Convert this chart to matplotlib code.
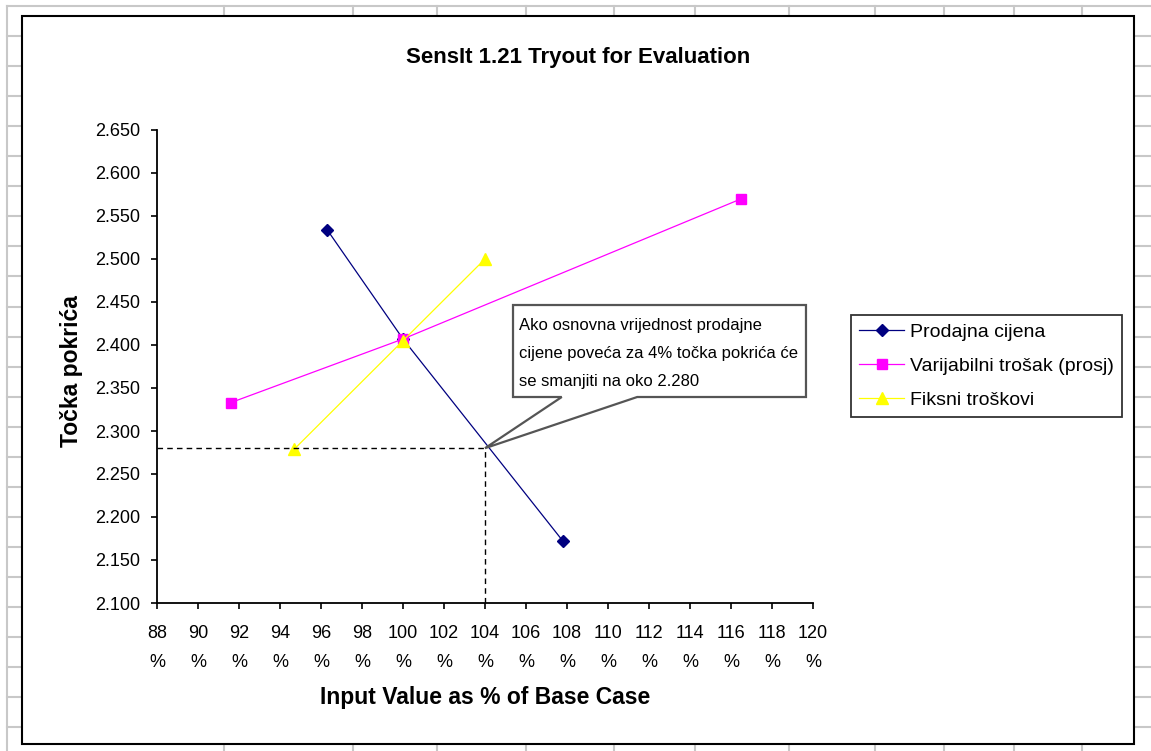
import numpy as np
import matplotlib
matplotlib.use("Agg")
from matplotlib import pyplot as plt
from matplotlib.lines import Line2D
from matplotlib.patches import Rectangle, Polygon

plt.rcParams['font.family'] = ['Liberation Sans', 'DejaVu Sans']

# data
prodajna_x = [96.3, 100.0, 107.8]
prodajna_y = [2.534, 2.407, 2.172]
varijabilni_x = [91.6, 100.0, 116.5]
varijabilni_y = [2.333, 2.407, 2.570]
fiksni_x = [94.7, 100.0, 104.0]
fiksni_y = [2.279, 2.405, 2.500]

x_ticks = list(range(88, 121, 2))
y_ticks = [2.100, 2.150, 2.200, 2.250, 2.300, 2.350, 2.400, 2.450,
           2.500, 2.550, 2.600, 2.650]

callout_x = 104
callout_y = 2.280
callout_text = ("Ako osnovna vrijednost prodajne\n"
                "cijene poveća za 4% točka pokrića će\n"
                "se smanjiti na oko 2.280")

W, H = 1151, 751
fig = plt.figure(figsize=(W / 100, H / 100), dpi=100)
fig.patch.set_facecolor('white')

def fx(px):
    return px / W

def fy(py):
    return 1 - py / H

# spreadsheet cell grid behind the chart
grid_c = '#c8c8c8'
for cx in [7, 224, 353, 437, 526, 614, 695, 789, 875, 944, 1014, 1082]:
    fig.add_artist(Line2D([fx(cx), fx(cx)], [fy(6), 0], color=grid_c, lw=1.5, zorder=0))
for k in range(25):
    ry = 6 + 30.05 * k
    if ry > H:
        break
    fig.add_artist(Line2D([fx(7), 1], [fy(ry), fy(ry)], color=grid_c, lw=1.5, zorder=0))

# chart area
fig.add_artist(Rectangle((fx(22), fy(744)), fx(1134) - fx(22), fy(16) - fy(744),
                         transform=fig.transFigure, facecolor='white',
                         edgecolor='black', lw=1.5, zorder=1))

ax = fig.add_axes([fx(157), fy(603), fx(813) - fx(157), fy(130) - fy(603)])
ax.set_facecolor('none')
ax.set_zorder(2)

ax.plot(prodajna_x, prodajna_y, color='#000080', lw=0.9, marker='D', ms=6,
        label='Prodajna cijena')
ax.plot(varijabilni_x, varijabilni_y, color='#ff00ff', lw=0.9, marker='s', ms=7,
        label='Varijabilni trošak (prosj)')
ax.plot(fiksni_x, fiksni_y, color='#ffff00', lw=0.9, marker='^', ms=8,
        label='Fiksni troškovi')

ax.plot([x_ticks[0], callout_x], [callout_y, callout_y], color='black',
        lw=1, ls=(0, (4, 3)))
ax.plot([callout_x, callout_x], [y_ticks[0], callout_y], color='black',
        lw=1, ls=(0, (4, 3)))

ax.set_xlim(x_ticks[0], x_ticks[-1])
ax.set_ylim(y_ticks[0], y_ticks[-1])
ax.set_xticks(x_ticks)
ax.set_xticklabels([f"{v}\n%" for v in x_ticks], linespacing=1.9)
ax.set_yticks(y_ticks)
ax.set_yticklabels([f"{v:.3f}" for v in y_ticks])
ax.tick_params(axis='both', direction='out', length=4, width=1.2,
               labelsize=13, color='black')
ax.tick_params(axis='x', pad=12)
ax.tick_params(axis='y', pad=8)
for s in ['top', 'right']:
    ax.spines[s].set_visible(False)
for s in ['left', 'bottom']:
    ax.spines[s].set_linewidth(1.3)

ax.set_xlabel('Input Value as % of Base Case', fontsize=16.5, fontweight='bold')
ax.set_ylabel('Točka pokrića', fontsize=16.5, fontweight='bold')
ax.xaxis.set_label_coords(0.5, -0.199)
ax.xaxis.label.set_va('center')
ax.yaxis.set_label_coords(-0.1310, 0.49)
ax.yaxis.label.set_va('center')

fig.text(fx(578), fy(58), 'SensIt 1.21 Tryout for Evaluation', ha='center',
         va='center', fontsize=16, fontweight='bold')

# callout box with pointer
tip = ax.transAxes.inverted().transform(ax.transData.transform((callout_x, callout_y)))
bl, br, bt, bb = 0.5427, 0.9893, 0.630, 0.4355
shape = [(bl, bt), (br, bt), (br, bb), (0.732, bb), tuple(tip), (0.617, bb), (bl, bb)]
ax.add_patch(Polygon(shape, closed=True, transform=ax.transAxes, clip_on=False,
                     facecolor='white', edgecolor='#555555', lw=1.6, zorder=5))
ax.text(bl + 0.009, bt - 0.027, callout_text, transform=ax.transAxes,
        ha='left', va='top', fontsize=12, linespacing=2.1, zorder=6)

leg = ax.legend(loc='upper left', bbox_to_anchor=(fx(851), fy(315)),
                bbox_transform=fig.transFigure, borderaxespad=0, frameon=True,
                fancybox=False, edgecolor='black', fontsize=14,
                handlelength=2.3, handletextpad=0.3, labelspacing=0.84,
                borderpad=0.42)
leg.get_frame().set_linewidth(1.3)

fig.savefig('out.png', dpi=100, facecolor='white')
